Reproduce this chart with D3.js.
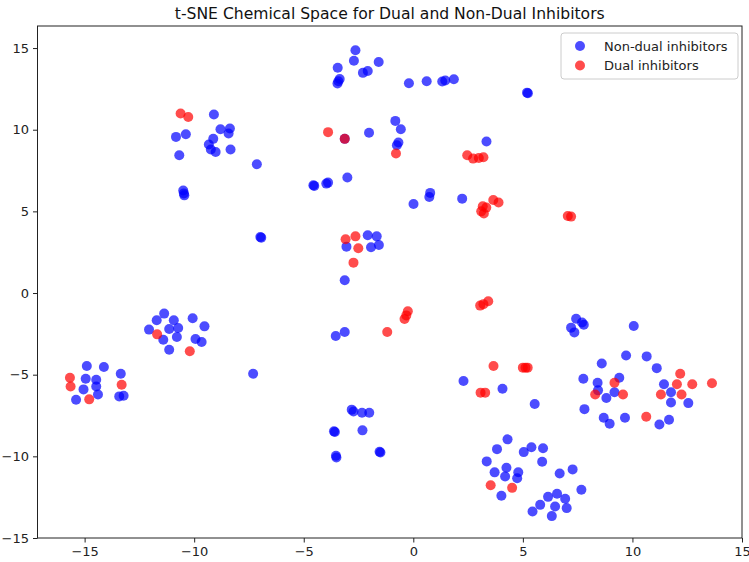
<!DOCTYPE html>
<html>
<head>
<meta charset="utf-8">
<script src="https://cdn.jsdelivr.net/npm/d3@7"></script>
<style>
  html, body { margin: 0; padding: 0; background: #fff; }
  svg { display: block; font-family: "DejaVu Sans", sans-serif; }
</style>
</head>
<body>
<div id="chart"></div>
<script>
const TITLE = "t-SNE Chemical Space for Dual and Non-Dual Inhibitors";
const seriesNames = ["Non-dual inhibitors", "Dual inhibitors"];
const seriesColors = ["blue", "red"];
const xTicks = [-15, -10, -5, 0, 5, 10, 15];
const yTicks = [-15, -10, -5, 0, 5, 10, 15];

// t-SNE coordinates, [x, y]
const nonDual = [
  [-10.83,9.56],[-10.38,9.72],[-10.68,8.44],[-10.5,6.28],[-10.47,6.1],[-10.45,5.98],
  [-9.10,10.93],[-8.80,10.03],[-8.37,10.07],[-8.43,9.77],[-9.13,9.44],[-9.33,9.09],
  [-9.24,8.79],[-9.02,8.64],[-8.34,8.79],[-7.14,7.89],[-6.98,3.43],[-6.94,3.39],
  [-2.64,14.87],[-2.71,14.22],[-3.45,13.79],[-1.58,14.15],[-2.30,13.48],[-2.08,13.60],
  [-3.36,13.11],[-3.42,12.97],[-3.46,12.83],[-0.20,12.85],[0.61,12.97],[1.32,12.95],
  [1.46,13.01],[1.85,13.09],[5.19,12.27],[5.23,12.23],
  [-3.13,9.44],[-2.02,9.81],[-0.82,10.54],[-0.57,10.03],[-0.68,9.22],[-0.75,9.05],[3.34,9.28],
  [-4.56,6.6],[-4.52,6.56],[-3.89,6.76],[-3.97,6.70],[-3.01,7.07],[0.01,5.45],[0.77,6.13],
  [0.73,5.88],[2.23,5.78],
  [-2.08,3.54],[-1.67,3.47],[-3.05,2.84],[-1.93,2.80],[-1.57,2.94],[-3.13,0.78],
  [-3.13,-2.39],[-3.54,-2.63],
  [-11.37,-1.26],[-11.71,-1.67],[-10.93,-1.67],[-10.07,-1.55],[-9.53,-2.04],[-12.06,-2.24],
  [-11.14,-2.20],[-10.73,-2.14],[-10.79,-2.69],[-11.41,-2.86],[-9.94,-2.82],[-9.66,-3.00],
  [-11.14,-3.47],
  [-14.90,-4.47],[-14.12,-4.53],[-14.95,-5.25],[-14.47,-5.31],[-13.35,-4.94],[-14.47,-5.72],
  [-15.05,-5.90],[-14.39,-6.21],[-15.39,-6.53],[-13.42,-6.33],[-13.22,-6.29],
  [-7.31,-4.94],
  [-2.81,-7.14],[-2.73,-7.25],[-2.34,-7.33],[-2.01,-7.33],[-3.62,-8.47],[-3.58,-8.51],
  [-2.32,-8.41],[-3.53,-9.96],[-3.51,-10.07],[-1.54,-9.72],[-1.50,-9.76],
  [2.29,-5.39],[4.07,-5.86],[5.54,-6.80],
  [7.43,-1.57],[7.70,-1.81],[7.78,-1.94],[7.20,-2.12],[7.35,-2.41],[10.06,-2.02],
  [9.71,-3.82],[10.65,-3.88],[8.60,-4.31],[11.11,-4.60],[7.76,-5.25],[9.40,-5.19],
  [8.41,-5.49],[11.44,-5.59],[8.43,-5.96],[8.81,-6.43],[9.18,-6.08],[7.81,-7.11],
  [8.69,-7.64],[8.96,-8.00],[9.66,-7.64],[11.23,-8.05],[11.67,-7.76],[11.76,-6.08],
  [11.76,-6.70],[12.55,-6.74],
  [4.30,-8.96],[3.82,-9.56],[5.04,-9.74],[5.39,-9.44],[5.92,-9.50],[5.88,-10.33],
  [3.35,-10.31],[3.71,-10.98],[4.25,-10.70],[4.19,-11.23],[4.79,-10.97],[4.74,-11.34],
  [4.02,-12.41],[6.68,-11.05],[7.27,-10.80],[7.67,-12.05],[6.15,-12.48],[6.56,-12.29],
  [6.93,-12.60],[5.79,-12.97],[6.47,-13.07],[7.00,-13.17],[5.44,-13.38],[6.32,-13.66]
];

const dual = [
  [-10.62,10.99],[-10.27,10.78],[-3.89,9.85],[-3.13,9.44],[-0.79,8.54],
  [2.46,8.44],[2.73,8.23],[2.99,8.27],[3.20,8.31],[3.65,5.70],[3.89,5.54],
  [3.17,5.31],[3.33,5.23],[3.22,4.87],[3.10,5.00],[7.05,4.72],[7.20,4.68],
  [-3.09,3.29],[-2.64,3.47],[-2.51,2.74],[-2.73,1.86],
  [-0.25,-1.12],[-0.32,-1.37],[-0.40,-1.59],[-1.19,-2.39],
  [3.05,-0.77],[3.20,-0.68],[3.42,-0.50],
  [-11.69,-2.53],[-10.20,-3.57],
  [-15.67,-5.19],[-15.64,-5.72],[-13.31,-5.62],[-14.79,-6.51],
  [3.66,-4.47],[5.00,-4.57],[5.12,-4.57],[5.22,-4.57],[3.07,-6.10],[3.28,-6.10],
  [12.18,-4.94],[9.18,-5.49],[12.03,-5.59],[12.73,-5.59],[13.63,-5.53],[8.30,-6.21],
  [9.57,-6.21],[10.63,-7.58],[11.30,-6.21],[12.24,-6.21],
  [3.53,-11.77],[4.51,-11.93]
];

const W = 749, H = 562;
const margin = {top: 26, right: 7, bottom: 24, left: 37.5};

const svg = d3.select("#chart").append("svg")
  .attr("width", W)
  .attr("height", H);

const x = d3.scaleLinear()
  .domain([-17.15, 15.0])
  .range([margin.left, W - margin.right]);

const y = d3.scaleLinear()
  .domain([-15.0, 16.35])
  .range([H - margin.bottom, margin.top]);

// points: non-dual first, dual on top
const series = [nonDual, dual];
series.forEach((pts, i) => {
  svg.append("g")
    .selectAll("circle")
    .data(pts)
    .enter().append("circle")
    .attr("cx", d => x(d[0]))
    .attr("cy", d => y(d[1]))
    .attr("r", 5)
    .attr("fill", seriesColors[i])
    .attr("fill-opacity", 0.7);
});

// axes
const xAxis = d3.axisBottom(x).tickValues(xTicks).tickSize(4.5).tickPadding(4)
  .tickFormat(d => d < 0 ? "\u2212" + Math.abs(d) : d);
const yAxis = d3.axisLeft(y).tickValues(yTicks).tickSize(4.5).tickPadding(4)
  .tickFormat(d => d < 0 ? "\u2212" + Math.abs(d) : d);

const gx = svg.append("g")
  .attr("transform", "translate(0," + (H - margin.bottom) + ")")
  .call(xAxis);
const gy = svg.append("g")
  .attr("transform", "translate(" + margin.left + ",0)")
  .call(yAxis);

[gx, gy].forEach(g => {
  g.select(".domain").remove();
  g.selectAll("line").attr("stroke", "#222");
  g.selectAll("text").attr("fill", "#222").style("font-size", "13px")
    .style("font-family", "DejaVu Sans, sans-serif");
});

// frame
svg.append("rect")
  .attr("x", margin.left)
  .attr("y", margin.top)
  .attr("width", W - margin.right - margin.left)
  .attr("height", H - margin.bottom - margin.top)
  .attr("fill", "none")
  .attr("stroke", "#222")
  .attr("stroke-width", 1);

// title
svg.append("text")
  .attr("x", (margin.left + W - margin.right) / 2)
  .attr("y", 19)
  .attr("text-anchor", "middle")
  .attr("fill", "#111")
  .style("font-size", "15.6px")
  .text(TITLE);

// legend
const legend = svg.append("g").attr("transform", "translate(561,33)");
legend.append("rect")
  .attr("width", 177)
  .attr("height", 46)
  .attr("rx", 3)
  .attr("fill", "#fff")
  .attr("fill-opacity", 0.8)
  .attr("stroke", "#ccc");

seriesNames.forEach((name, i) => {
  const row = legend.append("g").attr("transform", "translate(0," + (13 + i * 19.5) + ")");
  row.append("circle")
    .attr("cx", 19)
    .attr("cy", 0)
    .attr("r", 5)
    .attr("fill", seriesColors[i])
    .attr("fill-opacity", 0.7);
  row.append("text")
    .attr("x", 43)
    .attr("y", 0)
    .attr("dy", "0.35em")
    .attr("fill", "#222")
    .style("font-size", "13px")
    .text(name);
});
</script>
</body>
</html>
